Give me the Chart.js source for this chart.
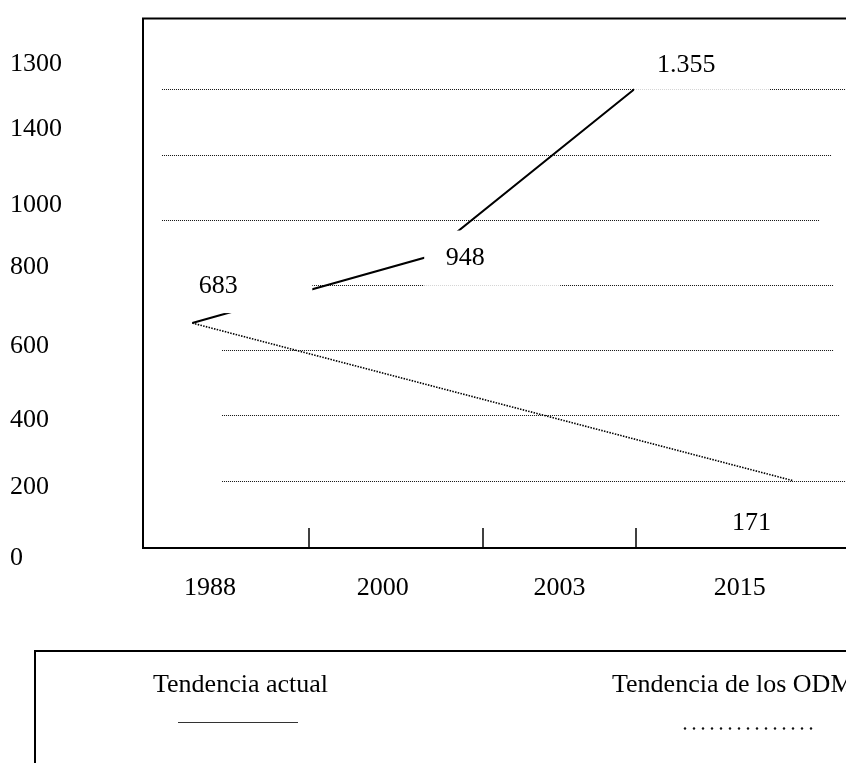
<!DOCTYPE html>
<html>
<head>
<meta charset="utf-8">
<script src="https://cdn.jsdelivr.net/npm/chart.js@4.4.0/dist/chart.umd.min.js"></script>
<style>
  html, body { margin: 0; padding: 0; background: #fff; }
  #wrap { width: 846px; height: 763px; position: relative; }
</style>
</head>
<body>
<div id="wrap"><canvas id="trendChart"></canvas></div>
<script>
// x is measured in category bands (0 = left side of the frame)
const categories = ['1988', '2000', '2003', '2015'];
const categoryPos = [0.394, 1.41, 2.45, 3.51];
const tickMarkPos = [0.976, 2.0, 2.9];

// y tick labels as printed (the order is the one in the original figure)
const yTickLabels = ['1300', '1400', '1000', '800', '600', '400', '200', '0'];
const yTickPos = [1477, 1278, 1046, 854, 613, 384, 179, -38];
const gridValues = [1400, 1200, 1000, 800, 600, 400, 200];

// Tendencia actual
const actualX = [0.29, 1.66, 2.89];
const actualY = [683, 884, 1400];
const actualText = ['683', '948', '1.355'];

// Tendencia de los ODM
const odmX = [0.29, 3.82];
const odmY = [683, 200];
const odmText = [null, '171'];

const FONT = '"Liberation Serif", "Times New Roman", serif';
const FRAME_LEFT = 143, FRAME_TOP = 16, FRAME_BOTTOM = 548;

// dotted guide lines, start / end in band units
const gridSpans = [
    [0.112, 4.2], [0.112, 4.05], [0.112, 3.98], [0.112, 4.06],
    [0.465, 4.06], [0.465, 4.1], [0.465, 4.2]
];

// white text boxes, offsets in px from the point they belong to
const labelStyle = {
    '683':   { dx: 26, dy: -37, box: [-44, 120, -50, -10], faint: false },
    '948':   { dx: 40, dy: 1, box: [-1, 135, -27, 34], faint: true },
    '1.355': { dx: 52, dy: -24, box: [0, 135, -47, 2], faint: true },
    '171':   { dx: -41, dy: 43, box: null }
};

const toPoints = (xs, ys) => xs.map((x, i) => ({ x: x, y: ys[i] }));

function drawGuides(chart) {
    const { ctx, scales: { x, y } } = chart;
    ctx.strokeStyle = '#111';
    ctx.lineWidth = 1;
    ctx.setLineDash([1, 1]);
    gridValues.forEach((v, i) => {
        const py = Math.round(y.getPixelForValue(v)) + 0.5;
        ctx.beginPath();
        ctx.moveTo(x.getPixelForValue(gridSpans[i][0]), py);
        ctx.lineTo(x.getPixelForValue(gridSpans[i][1]), py);
        ctx.stroke();
    });
    ctx.setLineDash([]);
}

const framePlugin = {
    id: 'framePlugin',
    beforeDatasetsDraw(chart) {
        const { ctx, chartArea, scales: { x } } = chart;
        ctx.save();
        drawGuides(chart);
        // top of the frame
        ctx.strokeStyle = '#000';
        ctx.lineWidth = 2;
        ctx.beginPath();
        ctx.moveTo(chartArea.left - 1, chartArea.top);
        ctx.lineTo(chartArea.right + 2, chartArea.top);
        ctx.stroke();
        // small ticks standing on the base line
        ctx.lineWidth = 1.5;
        tickMarkPos.forEach(t => {
            const px = Math.round(x.getPixelForValue(t));
            ctx.beginPath();
            ctx.moveTo(px, chartArea.bottom);
            ctx.lineTo(px, chartArea.bottom - 20);
            ctx.stroke();
        });
        ctx.restore();
    },
    afterDatasetsDraw(chart) {
        const { ctx } = chart;
        chart.data.datasets.forEach((ds, di) => {
            const meta = chart.getDatasetMeta(di);
            ds.valueText.forEach((txt, i) => {
                if (!txt) return;
                const pt = meta.data[i];
                const st = labelStyle[txt];
                ctx.save();
                if (st.box) {
                    const bx = pt.x + st.box[0], by = pt.y + st.box[2];
                    const bw = st.box[1] - st.box[0], bh = st.box[3] - st.box[2];
                    ctx.fillStyle = '#fff';
                    ctx.fillRect(bx, by, bw, bh);
                    if (st.faint) {
                        // the guide line shows through the box very lightly
                        ctx.save();
                        ctx.beginPath();
                        ctx.rect(bx, by, bw, bh);
                        ctx.clip();
                        ctx.globalAlpha = 0.18;
                        drawGuides(chart);
                        ctx.restore();
                    }
                }
                ctx.font = '26px ' + FONT;
                ctx.textAlign = 'center';
                ctx.textBaseline = 'middle';
                ctx.fillStyle = '#000';
                ctx.fillText(txt, pt.x + st.dx, pt.y + st.dy);
                ctx.restore();
            });
        });
    },
    afterDraw(chart) {
        // legend frame under the chart
        const { ctx } = chart;
        const ds = chart.data.datasets;
        ctx.save();
        ctx.strokeStyle = '#000';
        ctx.lineWidth = 2;
        ctx.strokeRect(35, 651, 900, 200);
        ctx.font = '26px ' + FONT;
        ctx.fillStyle = '#000';
        ctx.textAlign = 'left';
        ctx.textBaseline = 'middle';
        ctx.fillText(ds[0].label, 153, 685);
        ctx.fillText(ds[1].label, 612, 685);
        ctx.strokeStyle = '#333';
        ctx.lineWidth = 1.2;
        ctx.beginPath();
        ctx.moveTo(178, 722.5);
        ctx.lineTo(298, 722.5);
        ctx.stroke();
        ctx.fillStyle = '#111';
        for (let px = 685; px <= 811; px += 9) {
            ctx.beginPath();
            ctx.arc(px, 728.5, 1.2, 0, Math.PI * 2);
            ctx.fill();
        }
        ctx.restore();
    }
};

const ctx = document.getElementById('trendChart');
const chart = new Chart(ctx, {
    type: 'line',
    data: {
        datasets: [
            {
                label: 'Tendencia actual',
                data: toPoints(actualX, actualY),
                valueText: actualText,
                borderColor: '#000',
                borderWidth: 2,
                pointRadius: 0,
                tension: 0,
                fill: false
            },
            {
                label: 'Tendencia de los ODM',
                data: toPoints(odmX, odmY),
                valueText: odmText,
                borderColor: '#000',
                borderWidth: 1.6,
                borderDash: [1.5, 1.3],
                pointRadius: 0,
                tension: 0,
                fill: false
            }
        ]
    },
    options: {
        responsive: true,
        maintainAspectRatio: false,
        animation: false,
        events: [],
        layout: {
            autoPadding: false,
            padding: { left: 10, top: FRAME_TOP, right: 0, bottom: 0 }
        },
        plugins: {
            legend: { display: false },
            tooltip: { enabled: false }
        },
        scales: {
            x: {
                type: 'linear',
                position: 'bottom',
                min: 0,
                max: (846 - FRAME_LEFT) / 170,
                afterFit: s => { s.height = 763 - FRAME_BOTTOM; },
                afterBuildTicks: s => { s.ticks = categoryPos.map(v => ({ value: v })); },
                grid: { display: false, drawTicks: false },
                border: { display: true, color: '#000', width: 2 },
                ticks: {
                    autoSkip: false,
                    maxRotation: 0,
                    padding: 25,
                    color: '#000',
                    font: { family: FONT, size: 26 },
                    callback: (v, i) => categories[i]
                }
            },
            y: {
                type: 'linear',
                position: 'left',
                min: -7,
                max: 1617,
                afterFit: s => { s.width = FRAME_LEFT - 10; },
                afterBuildTicks: s => { s.ticks = yTickPos.map(v => ({ value: v })); },
                grid: { display: false, drawTicks: false },
                border: { display: true, color: '#000', width: 2 },
                ticks: {
                    autoSkip: false,
                    crossAlign: 'far',
                    color: '#000',
                    font: { family: FONT, size: 26 },
                    callback: (v, i) => yTickLabels[i]
                }
            }
        }
    },
    plugins: [framePlugin]
});
</script>
</body>
</html>
